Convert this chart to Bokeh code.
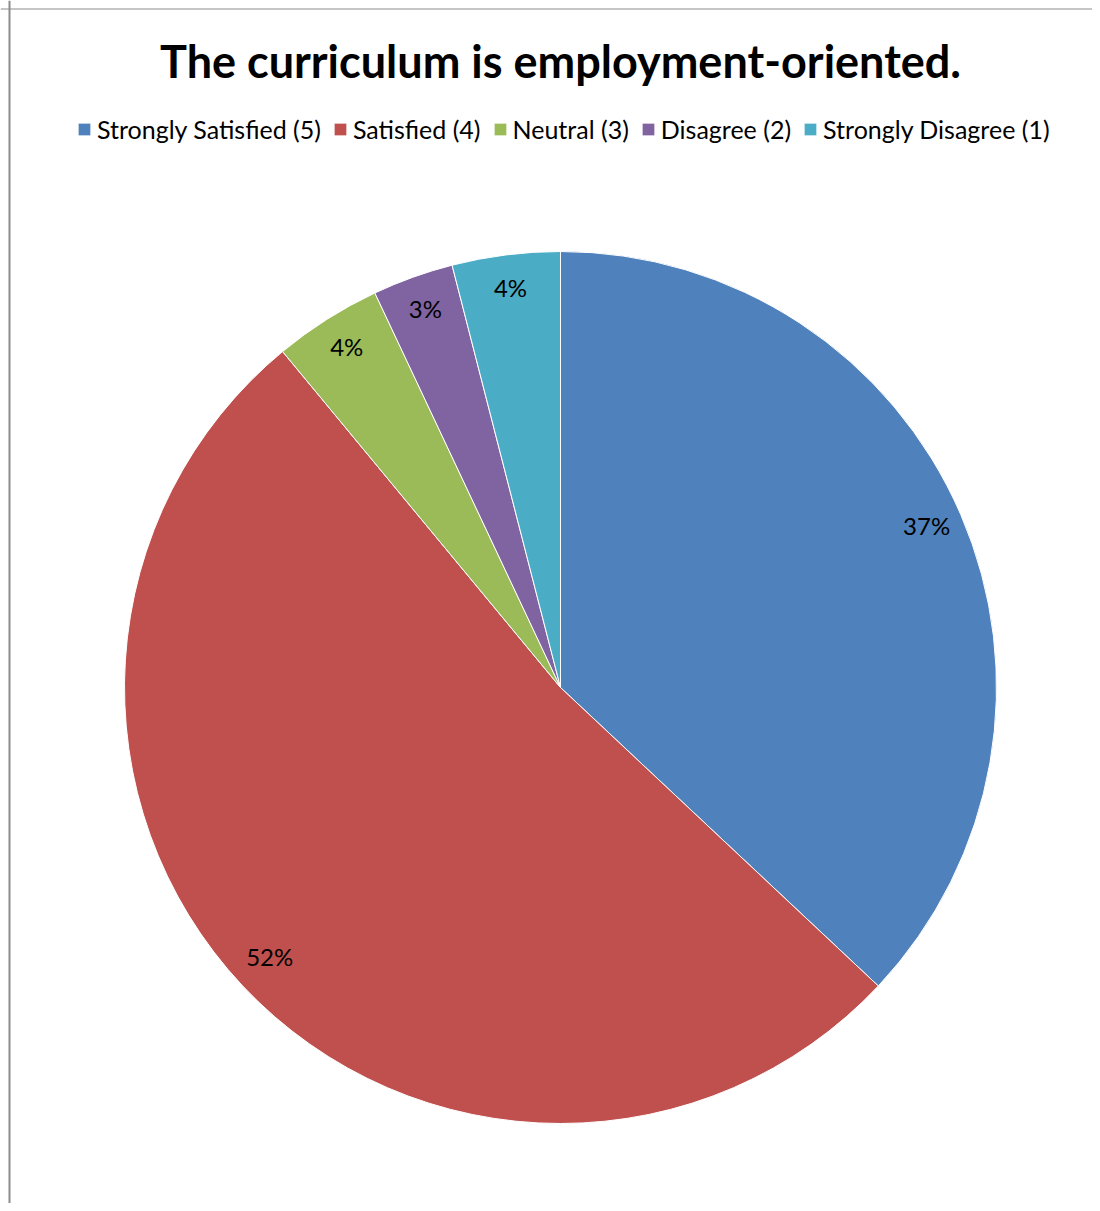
import math
from bokeh.plotting import figure
from bokeh.models import ColumnDataSource, Range1d, Legend, LegendItem, Label, Span
from bokeh.core.properties import value
from bokeh.embed import file_html
from bokeh.resources import INLINE

categories = ["Strongly Satisfied (5)", "Satisfied (4)", "Neutral (3)", "Disagree (2)", "Strongly Disagree (1)"]
percents = [37, 52, 4, 3, 4]
labels = ["37%", "52%", "4%", "3%", "4%"]
colors = ["#4F81BD", "#C0504D", "#9BBB59", "#8064A2", "#4BACC6"]

W, H = 1092, 1203
FONT = "Lato"

p = figure(width=W, height=H, output_backend="svg", toolbar_location=None,
           x_range=Range1d(0, W), y_range=Range1d(0, H), min_border=0)
p.axis.visible = False
p.grid.visible = False
p.outline_line_color = None
p.background_fill_color = "white"
p.border_fill_color = "white"

cx, cy, R = 560, H - 687, 436
total = sum(percents)
starts, ends, lx, ly = [], [], [], []
cum = 0.0
for v in percents:
    a0 = math.pi / 2 - 2 * math.pi * cum / total
    cum += v
    a1 = math.pi / 2 - 2 * math.pi * cum / total
    starts.append(a0)
    ends.append(a1)
    mid = (a0 + a1) / 2
    lx.append(cx + 0.915 * R * math.cos(mid))
    ly.append(cy + 0.915 * R * math.sin(mid))

src = ColumnDataSource(dict(cat=categories, start=starts, end=ends, color=colors,
                            lx=lx, ly=ly, lab=labels))
r = p.wedge(x=cx, y=cy, radius=R, start_angle="start", end_angle="end",
            direction="clock", fill_color="color", line_color="white", line_width=1,
            source=src)
p.text(x="lx", y="ly", text="lab", source=src, text_align="center", text_baseline="middle",
       text_font=value(FONT), text_font_size="24px", text_color="black", y_offset=-4)

items = [LegendItem(label=c, renderers=[r], index=i) for i, c in enumerate(categories)]
leg = Legend(items=items, orientation="horizontal", location=(76, H - 131 - 13),
             label_text_font=FONT, label_text_font_size="25px", label_text_color="black",
             glyph_width=16, glyph_height=16, label_standoff=5, spacing=11,
             padding=0, margin=0, border_line_color=None, background_fill_alpha=0,
             label_height=26, label_text_baseline="middle")
p.add_layout(leg)

title = Label(x=560, y=H - 60, x_units="screen", y_units="screen",
              text="The curriculum is employment-oriented.", text_font=FONT,
              text_font_size="45px", text_font_style="bold", text_align="center",
              text_baseline="middle", text_color="black")
p.add_layout(title)

p.add_layout(Span(location=9, dimension="height", line_color="#8c8c8c", line_width=2))
p.add_layout(Span(location=H - 8.5, dimension="width", line_color="#8c8c8c", line_width=1))

open("out.html", "w").write(file_html(p, INLINE))
